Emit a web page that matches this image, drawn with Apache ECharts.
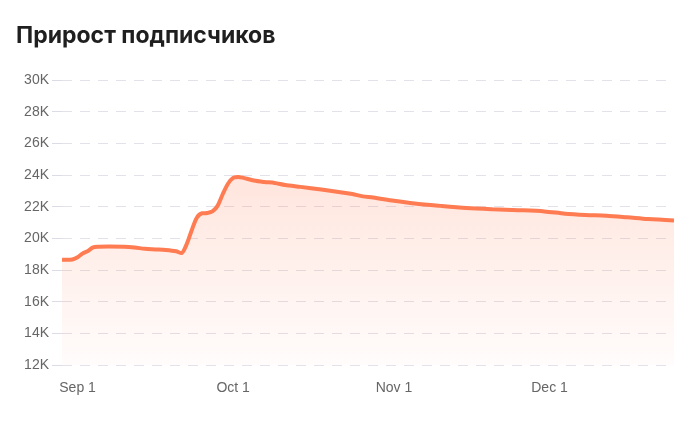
<!DOCTYPE html>
<html>
<head>
<meta charset="utf-8">
<script src="https://cdn.jsdelivr.net/npm/echarts@6/dist/echarts.min.js"></script>
<style>
html,body{margin:0;padding:0;background:#fff;}
#chart{width:687px;height:421px;}
</style>
</head>
<body>
<div id="chart"></div>
<script>
var titleText = 'Прирост подписчиков';
var dates = ['2023-08-29','2023-08-30','2023-08-31','2023-09-01','2023-09-02','2023-09-03','2023-09-04','2023-09-05','2023-09-07','2023-09-10','2023-09-12','2023-09-14','2023-09-16','2023-09-18','2023-09-20','2023-09-21','2023-09-22','2023-09-23','2023-09-24','2023-09-25','2023-09-26','2023-09-27','2023-09-28','2023-09-29','2023-09-30','2023-10-01','2023-10-02','2023-10-03','2023-10-05','2023-10-07','2023-10-09','2023-10-11','2023-10-14','2023-10-18','2023-10-22','2023-10-24','2023-10-26','2023-10-28','2023-11-01','2023-11-05','2023-11-10','2023-11-15','2023-11-20','2023-11-25','2023-11-30','2023-12-04','2023-12-08','2023-12-12','2023-12-16','2023-12-20','2023-12-25'];
var subscribers = [18650,18640,18660,18800,19050,19200,19430,19470,19480,19470,19420,19340,19300,19260,19180,19070,19600,20500,21300,21580,21600,21700,22050,22800,23450,23820,23880,23820,23650,23560,23500,23370,23250,23080,22900,22800,22650,22580,22370,22200,22050,21920,21840,21780,21700,21560,21480,21430,21330,21220,21130];
var xTickDates = ['2023-09-01','2023-10-01','2023-11-01','2023-12-01'];
var xTickLabels = ['Sep 1','Oct 1','Nov 1','Dec 1'];
var yMin = 12000, yMax = 30000, yStep = 2000;

var ts = function(s){ var p = s.split('-'); return Date.UTC(+p[0], +p[1]-1, +p[2]); };
var seriesData = dates.map(function(d,i){ return [ts(d), subscribers[i]]; });
var tickTs = xTickDates.map(ts);

var chart = echarts.init(document.getElementById('chart'), null, {renderer:'canvas'});
chart.setOption({
  animation:false,
  backgroundColor:'#ffffff',
  title:{
    text:titleText, left:11, top:20,
    textStyle:{fontFamily:'Inter', fontWeight:700, fontSize:23, color:'#1f1f1f'}
  },
  grid:{left:62, right:13, top:80, bottom:56},
  xAxis:{
    type:'value',
    min:ts(dates[0]), max:ts(dates[dates.length-1]),
    axisLine:{show:false},
    axisTick:{show:false},
    splitLine:{show:false},
    axisLabel:{
      customValues:tickTs,
      margin:16,
      fontFamily:'Liberation Sans, Arial', fontSize:14, color:'#666',
      formatter:function(v){ var i = tickTs.indexOf(v); return i>=0 ? xTickLabels[i] : ''; }
    }
  },
  yAxis:{
    type:'value', min:yMin, max:yMax, interval:yStep,
    axisLine:{show:false},
    axisTick:{show:true, length:10, lineStyle:{color:'#dcdce6'}},
    splitLine:{show:true, lineStyle:{color:'#e2e2ea', type:[10,8], width:1}},
    axisLabel:{
      margin:13,
      fontFamily:'Liberation Sans, Arial', fontSize:14, color:'#666',
      formatter:function(v){ return (v/1000)+'K'; }
    }
  },
  series:[{
    type:'line',
    data:seriesData,
    smooth:0.3,
    showSymbol:false,
    lineStyle:{color:'#ff7b52', width:4},
    itemStyle:{color:'#ff7b52'},
    areaStyle:{
      color:new echarts.graphic.LinearGradient(0,0,0,1,[
        {offset:0, color:'rgba(255,123,82,0.28)'},
        {offset:1, color:'rgba(255,123,82,0.03)'}
      ])
    }
  }]
});
</script>
</body>
</html>
